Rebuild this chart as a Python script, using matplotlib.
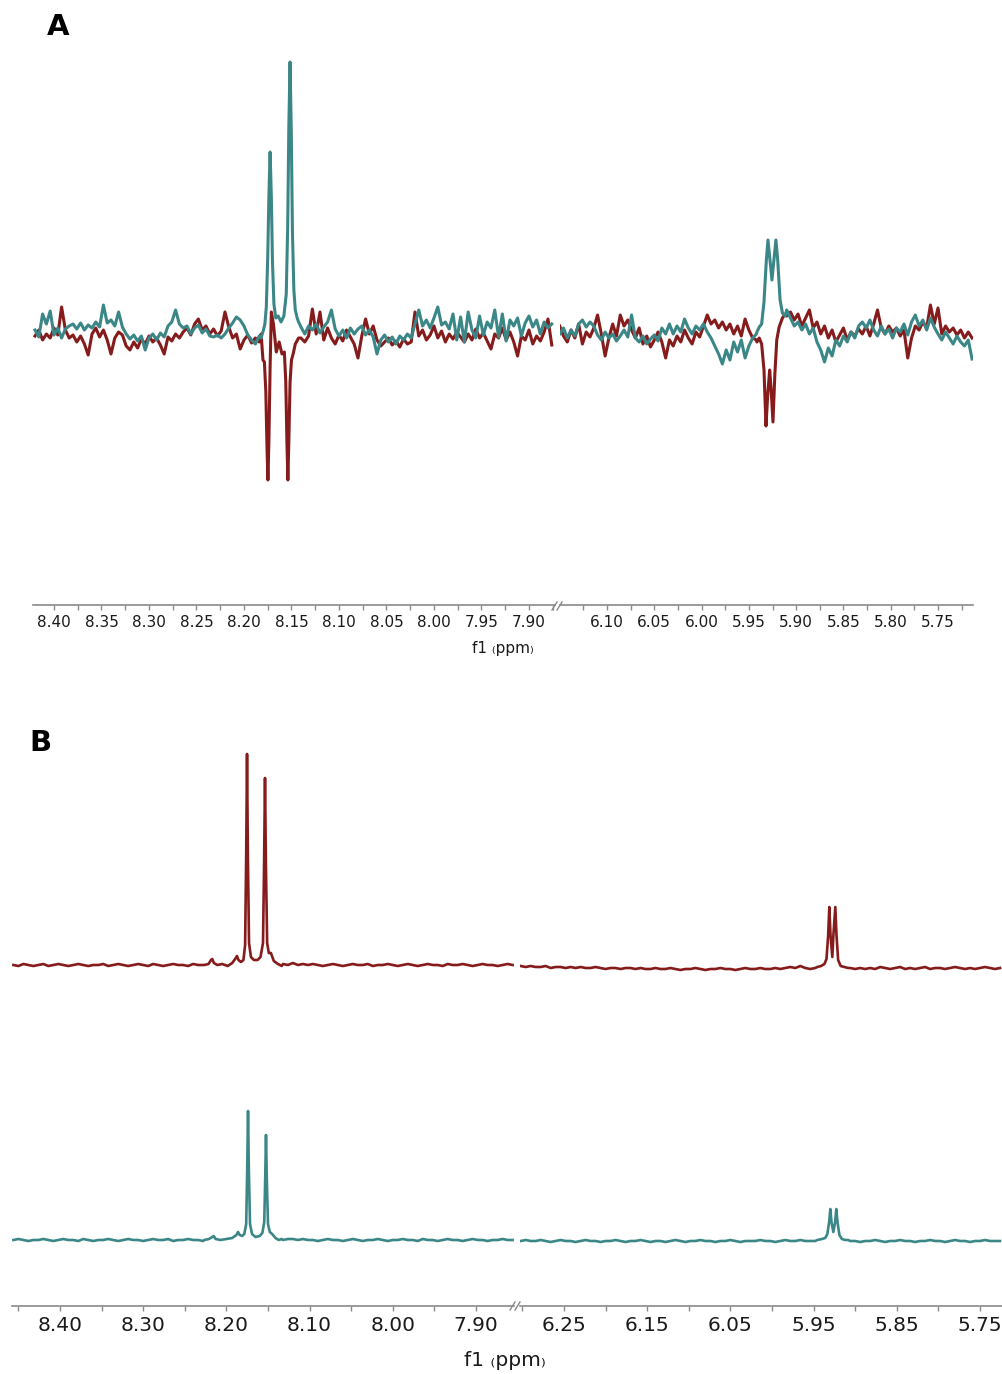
import numpy as np
import matplotlib
matplotlib.use("Agg")
import matplotlib.pyplot as plt
from matplotlib.lines import Line2D

RED = "#861b1b"
TEAL = "#3b8787"
AXIS = "#8a8a8a"

# ---------------- panel A: noisy traces ----------------
# sample grids (ppm) for the two spectral windows
a_left_ppm = np.linspace(8.420, 7.876, 137)
a_right_ppm = np.linspace(6.150, 5.714, 110)

a_left_teal = np.array([
    2, -5, 18, 8, 21, -3, 4, -6, 3, 6,
    8, 3, 9, 2, 7, 4, 10, 5, 27, 9,
    12, 6, 20, 5, -2, -7, -3, -9, -4, -18,
    -6, -2, -8, -1, -5, 6, 10, 22, 8, 4,
    6, -2, 4, 7, -1, 3, -4, -5, -3, -6,
    -2, 4, 9, 15, 12, 6, -3, -8, -12, -4,
    8, 10, 12, 12, 10, 12, 14, 10, 6, 4,
    5, -2, 6, 2, 8, -1, 5, 10, 22, 3,
    -4, 2, -6, 4, -2, 3, 6, -3, 2, -5,
    -22, -8, -3, -10, -5, -12, -4, -8, -2, -6,
    8, 22, 6, 12, 4, 14, 25, 7, 10, 3,
    18, -8, 15, -10, 20, 2, -6, 16, -3, 10,
    4, 22, -5, 18, -9, 12, 6, 14, -4, 9,
    16, 5, 12, -2, 10, 4, 8])
a_left_red = np.array([
    -4, 2, -8, -2, -6, 4, -3, 25, 2, -6,
    -3, -10, -4, -12, -23, -2, 4, -5, 2, -8,
    -22, -6, 0, -3, -14, -18, -10, -16, -7, -12,
    -4, -10, -6, -13, -22, -5, -9, -2, -6, 0,
    4, -3, 8, 13, 2, 6, -2, 3, -4, 1,
    20, 5, -6, -2, -17, -8, -3, -11, -6, -10,
    -10, -12, -8, -10, -14, -12, -10, -14, -12, -8,
    -6, -10, -4, 23, -2, 20, -8, 4, -6, -12,
    -3, -9, 2, -5, -12, -26, -4, 13, -2, 6,
    -8, -14, -10, -6, -13, -9, -15, -7, -12, -10,
    20, -4, 2, -8, -3, 6, -6, 1, -10, -2,
    -7, 0, -5, -10, -2, -8, 3, -6, -1, -9,
    -17, -2, -6, 4, -8, 0, -10, -24, -4, -8,
    2, -12, -4, -9, 0, 13, -13])

a_right_teal = np.array([
    -2, 4, -6, 2, -4, 8, 12, 5, 10, 6,
    -3, -8, 0, -6, -2, -9, -4, 2, -5, 17,
    -6, -10, -4, -12, -7, -3, -9, 4, -2, 8,
    -2, 6, 0, 13, 4, -2, 6, 2, 8, 0,
    -6, -14, -22, -32, -18, -28, -10, -20, -8, -26,
    -14, -6, -2, 10, 40, 90, 50, 90, 40, 20,
    22, 14, 6, 10, 2, 8, -2, 4, -10, -18,
    -30, -16, -24, -8, -14, -4, -10, 0, -6, 6,
    10, 4, 12, 2, -4, 6, -2, 3, -6, 4,
    0, 8, -3, 10, 17, 6, 12, 2, 14, 5,
    -2, -8, 0, -6, -12, -4, -10, -14, -8, -27])
a_right_red = np.array([
    6, -4, -10, 2, -6, 8, -12, 0, -5, 4,
    17, -2, -24, -6, 8, -4, 17, 6, 12, 2,
    -6, 4, -12, -4, -15, -8, 0, -10, -26, -8,
    -14, -4, -10, 2, -6, -12, 0, -5, 6, 17,
    8, 12, 4, 10, 2, 8, -2, 6, -4, 13,
    2, -6, -8, -40, -90, -40, -90, -40, 0, 10,
    16, 20, 12, 18, 6, 14, 22, 4, 10, -2,
    6, -6, 2, -10, -3, 4, -8, 0, -4, 3,
    -2, 6, -4, 8, 22, 4, -2, 6, 0, 4,
    -4, 2, -26, -6, 6, 2, 10, 4, 27, 8,
    24, -2, 6, 0, 4, -3, 2, -6, 0, -6])

# resolved signals around 8.17/8.15 ppm
a_pk1_ppm = np.array([8.182, 8.1795, 8.178, 8.1765, 8.175, 8.1738, 8.1725, 8.1712,
                      8.170, 8.1685, 8.1665, 8.164, 8.161, 8.158, 8.1555, 8.154,
                      8.1528, 8.1515, 8.1502, 8.149, 8.1475, 8.146, 8.144, 8.1425])
a_pk1_teal = np.array([-6, 2, 8, 25, 75, 135, 180, 135,
                       70, 28, 14, 16, 10, 16, 38, 105,
                       205, 270, 200, 100, 42, 22, 14, 10])
a_pk1r_ppm = np.array([8.182, 8.180, 8.1785, 8.177, 8.1758, 8.1748, 8.1738, 8.1725,
                       8.1712, 8.169, 8.166, 8.163, 8.160, 8.1575, 8.156, 8.1548,
                       8.1538, 8.1528, 8.1515, 8.150, 8.148, 8.146, 8.1425])
a_pk1_red = np.array([-2, -28, -30, -60, -115, -148, -110, -35,
                      20, 8, -20, -10, -22, -20, -50, -110,
                      -148, -110, -50, -28, -21, -12, -6])

# doublet around 5.93 ppm
a_pk2_ppm = np.array([5.9415, 5.939, 5.9365, 5.934, 5.9315, 5.9298, 5.928, 5.9256,
                      5.9232, 5.9214, 5.9195, 5.917, 5.9145, 5.9115])
a_pk2_teal = np.array([0, 5, 8, 30, 72, 92, 75, 52,
                       75, 92, 72, 32, 19, 16])
a_pk2r_ppm = np.array([5.9415, 5.939, 5.9365, 5.934, 5.9319, 5.930, 5.928, 5.9265,
                       5.9245, 5.9225, 5.9205, 5.918, 5.9145, 5.9115])
a_pk2_red = np.array([-10, -6, -12, -38, -94, -62, -38, -57,
                      -90, -42, -8, 5, 14, 18])

# ---------------- panel B: clean traces ----------------
b_left_ppm = np.linspace(8.456, 7.856, 101)
b_right_ppm = np.linspace(6.302, 5.726, 97)

b_left_red = np.array([
    0, -1, 1, 0, -1, 0, 1, -1, 0, 1,
    0, -1, 0, 1, 0, -1, 0, 0, 1, -1,
    0, 1, 0, -1, 0, 1, 0, -1, 1, 0,
    -1, 0, 1, 0, 0, -1, 1, 0, 0, 1,
    0, 0, 0, 0, 0, 0, 0, 0, 0, 0,
    0, 0, 0, 0, 1, 0, 2, 0, 1, 0,
    1, 0, -1, 0, 1, 0, -1, 0, 1, 0,
    0, 1, -1, 0, 0, 1, 0, -1, 0, 1,
    0, -1, 0, 1, 0, 0, -1, 1, 0, 0,
    1, 0, -1, 0, 1, 0, 0, -1, 0, 1, 0])
b_right_red = np.array([
    -1, -2, -1, -2, -2, -1, -3, -2, -2, -3,
    -2, -3, -2, -3, -3, -2, -3, -4, -3, -3,
    -4, -3, -3, -4, -3, -4, -4, -3, -4, -4,
    -3, -4, -5, -4, -4, -3, -4, -5, -4, -4,
    -3, -4, -4, -5, -4, -3, -4, -4, -3, -4,
    -4, -3, -4, -3, -2, -3, -1, -3, -4, -3,
    -3, -3, -3, -3, -3, -3, -3, -4, -3, -4,
    -3, -4, -2, -3, -4, -3, -2, -4, -3, -4,
    -3, -2, -4, -3, -3, -4, -3, -2, -3, -4,
    -3, -4, -3, -2, -3, -4, -3])
b_left_teal = np.array([
    0, 1, 0, -1, 0, 0, 1, 0, -1, 0,
    1, 0, 0, -1, 1, 0, -1, 0, 0, 1,
    0, -1, 0, 1, 0, 0, -1, 0, 1, 0,
    0, 1, -1, 0, 0, 1, 0, 0, -1, 0,
    0, 0, 0, 0, 0, 0, 0, 0, 0, 0,
    0, 0, 0, 0, 0, 1, 1, 0, 1, 0,
    0, -1, 0, 1, 0, 0, -1, 0, 1, 0,
    -1, 0, 0, 1, 0, -1, 0, 0, 1, 0,
    0, -1, 1, 0, 0, -1, 0, 1, 0, 0,
    -1, 0, 1, 0, 0, -1, 0, 0, 1, 0, 0])
b_right_teal = np.array([
    -1, 0, -1, -1, 0, -1, -2, -1, 0, -1,
    -1, -2, -1, 0, -1, -1, -2, -1, -1, 0,
    -1, -2, -1, -1, 0, -1, -2, -1, -1, -2,
    -1, 0, -1, -2, -1, -1, 0, -1, -1, -2,
    -1, -1, 0, -1, -2, -1, -1, -1, 0, -1,
    -1, -2, -1, 0, -1, -1, 0, -1, -1, -1,
    0, 0, 0, 0, 0, 0, -1, -1, -2, -1,
    -1, 0, -1, -2, -1, -1, 0, -1, -1, -2,
    -1, -1, 0, -1, -1, -2, -1, 0, -1, -1,
    -2, -1, -1, 0, -1, -1, -1])

b_pk1r_ppm = np.array([8.2265, 8.2215, 8.2185, 8.2170, 8.2150, 8.2110, 8.2050, 8.1985,
                       8.1930, 8.1895, 8.1873, 8.1855, 8.1825, 8.1795, 8.1775, 8.1762,
                       8.1752, 8.1742, 8.1728, 8.1705, 8.1670, 8.1625, 8.1590, 8.1560,
                       8.1547, 8.1536, 8.1525, 8.1510, 8.1490, 8.1465, 8.1430, 8.1380,
                       8.1335])
b_pk1_red = np.array([0, 1, 5, 6, 2, 0, 1, -1,
                      2, 6, 9, 5, 3, 5, 20, 110,
                      211, 110, 22, 8, 5, 5, 8, 22,
                      100, 187, 100, 22, 12, 12, 4, 1,
                      -1])
b_pk1t_ppm = np.array([8.2265, 8.2210, 8.2170, 8.2152, 8.2130, 8.2070, 8.2000, 8.1930,
                       8.1880, 8.1860, 8.1840, 8.1810, 8.1785, 8.1762, 8.1750, 8.1740,
                       8.1730, 8.1716, 8.1692, 8.1650, 8.1600, 8.1568, 8.1545, 8.1534,
                       8.1524, 8.1514, 8.1500, 8.1478, 8.1450, 8.1410, 8.1370, 8.1335])
b_pk1_teal = np.array([0, 1, 3, 4, 1, 0, 1, 2,
                       5, 8, 5, 4, 6, 16, 70, 129,
                       70, 16, 6, 3, 4, 7, 18, 60,
                       105, 60, 16, 8, 6, 2, 0, 1])

b_pk2r_ppm = np.array([5.9455, 5.9410, 5.9370, 5.9345, 5.9325, 5.9311, 5.9297, 5.9275,
                       5.9262, 5.9239, 5.9225, 5.9205, 5.9175, 5.9130, 5.9085])
b_pk2_red = np.array([-2, -1, 1, 6, 30, 58, 30, 8,
                      30, 58, 30, 5, -1, -2, -3])
b_pk2t_ppm = np.array([5.9455, 5.9400, 5.9360, 5.9335, 5.9313, 5.9299, 5.9285, 5.9263,
                       5.9241, 5.9227, 5.9213, 5.9190, 5.9160, 5.9120, 5.9085])
b_pk2_teal = np.array([0, 1, 2, 6, 18, 31, 18, 8,
                       18, 31, 18, 5, 1, 0, 0])

A_TICKS_L = [8.40, 8.35, 8.30, 8.25, 8.20, 8.15, 8.10, 8.05, 8.00, 7.95, 7.90]
A_TICKS_R = [6.10, 6.05, 6.00, 5.95, 5.90, 5.85, 5.80, 5.75]
B_TICKS_L = [8.40, 8.30, 8.20, 8.10, 8.00, 7.90]
B_TICKS_R = [6.25, 6.15, 6.05, 5.95, 5.85, 5.75]


def join(grid, base, px, py):
    # replace grid samples inside the peak window with the peak samples
    keep = (grid > px.max()) | (grid < px.min())
    x = np.concatenate([grid[keep], px])
    y = np.concatenate([base[keep], py])
    order = np.argsort(-x)
    return x[order], y[order]


W, H = 1002, 1374
fig = plt.figure(figsize=(W / 100, H / 100), dpi=100)


def axes_px(x0, x1, ytop, ybot):
    return fig.add_axes([x0 / W, 1 - ybot / H, (x1 - x0) / W, (ybot - ytop) / H])


def style(ax, xlim, ylim, ticks, minor, fs):
    ax.set_xlim(*xlim)
    ax.set_ylim(*ylim)
    for s in ("top", "left", "right"):
        ax.spines[s].set_visible(False)
    ax.spines["bottom"].set_color(AXIS)
    ax.spines["bottom"].set_linewidth(1.2)
    ax.set_yticks([])
    ax.set_xticks(ticks)
    ax.set_xticklabels(["%.2f" % t for t in ticks])
    ax.set_xticks(minor, minor=True)
    ax.tick_params(axis="x", which="both", direction="out", length=3.5,
                   width=1.0, color=AXIS, labelsize=fs, labelcolor="#1a1a1a", pad=4)
    ax.patch.set_alpha(0)


def slash(x0, y0):
    for dx in (0, 5):
        fig.add_artist(Line2D([(x0 + dx) / W, (x0 + dx + 5) / W],
                              [1 - (y0 + 4) / H, 1 - (y0 - 4) / H],
                              color=AXIS, lw=1.0))


# panel A
ylim_a = (-273, 292)
axL = axes_px(33, 555, 40, 605)
axR = axes_px(560, 973, 40, 605)

LW_A = 2.2
x, y = join(a_left_ppm, a_left_red, a_pk1r_ppm, a_pk1_red)
axL.plot(x, y, color=RED, lw=LW_A, solid_joinstyle="round")
x, y = join(a_left_ppm, a_left_teal, a_pk1_ppm, a_pk1_teal)
axL.plot(x, y, color=TEAL, lw=LW_A, solid_joinstyle="round")
x, y = join(a_right_ppm, a_right_red, a_pk2r_ppm, a_pk2_red)
axR.plot(x, y, color=RED, lw=LW_A, solid_joinstyle="round")
x, y = join(a_right_ppm, a_right_teal, a_pk2_ppm, a_pk2_teal)
axR.plot(x, y, color=TEAL, lw=LW_A, solid_joinstyle="round")

style(axL, (8.4221, 7.8726), ylim_a, A_TICKS_L, np.arange(8.375, 7.87, -0.05), 11)
style(axR, (6.1497, 5.713), ylim_a, A_TICKS_R, np.arange(6.125, 5.71, -0.05), 11)
slash(552, 606)

# panel B, traces stacked with fixed offsets
RED_OFF, TEAL_OFF = 341, 66
ylim_b = (0, 561)
bxL = axes_px(12, 514, 745, 1306)
bxR = axes_px(520, 1002, 745, 1306)

LW_B = 1.9
x, y = join(b_left_ppm, b_left_red, b_pk1r_ppm, b_pk1_red)
bxL.plot(x, y + RED_OFF, color=RED, lw=LW_B)
x, y = join(b_left_ppm, b_left_teal, b_pk1t_ppm, b_pk1_teal)
bxL.plot(x, y + TEAL_OFF, color=TEAL, lw=LW_B)
x, y = join(b_right_ppm, b_right_red, b_pk2r_ppm, b_pk2_red)
bxR.plot(x, y + RED_OFF, color=RED, lw=LW_B)
x, y = join(b_right_ppm, b_right_teal, b_pk2t_ppm, b_pk2_teal)
bxR.plot(x, y + TEAL_OFF, color=TEAL, lw=LW_B)

style(bxL, (8.4577, 7.8543), ylim_b, B_TICKS_L, np.arange(8.45, 7.86, -0.1), 14.5)
style(bxR, (6.3028, 5.7236), ylim_b, B_TICKS_R, np.arange(6.30, 5.72, -0.1), 14.5)
slash(510, 1306)

fig.text(503 / W, 1 - 648 / H, "f1 \u208dppm\u208e", ha="center", va="center",
         fontsize=11, color="#1a1a1a")
fig.text(505 / W, 1 - 1361 / H, "f1 \u208dppm\u208e", ha="center", va="center",
         fontsize=14.5, color="#1a1a1a")
fig.text(47 / W, 1 - 27 / H, "A", ha="left", va="center", fontsize=21,
         fontweight="bold")
fig.text(29 / W, 1 - 743 / H, "B", ha="left", va="center", fontsize=21,
         fontweight="bold")

fig.savefig("out.png", dpi=100)
